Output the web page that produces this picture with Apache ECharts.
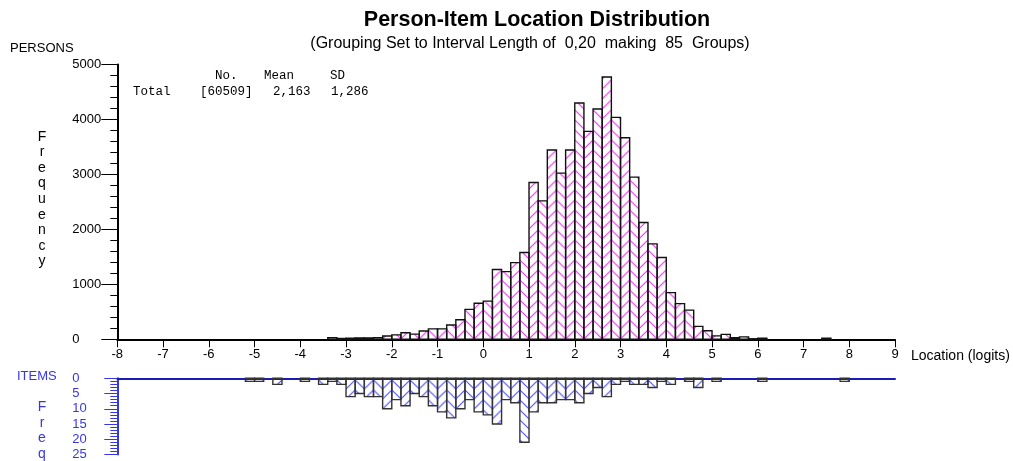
<!DOCTYPE html>
<html><head><meta charset="utf-8">
<script src="https://cdn.jsdelivr.net/npm/echarts@6/dist/echarts.min.js"></script>
<style>html,body{margin:0;padding:0;background:#fff}#c{width:1013px;height:461px}</style>
</head><body><div id="c"></div>
<script>
// ---- data ----
const binStart = -8;
const binWidth = 0.2;
const xTickValues = [-8,-7,-6,-5,-4,-3,-2,-1,0,1,2,3,4,5,6,7,8,9];
const personTicks = [0,1000,2000,3000,4000,5000];
const itemTicks = [0,5,10,15,20,25];
// persons per 0.2-logit bin, bins from -8 to 9 (85 groups)
const personCounts = [
  0,0,0,0,0,0,0,0,0,0, 0,0,0,0,0,0,0,0,0,0, 0,0,0,
  30,15,20,25,25,30,60,80,120,95,150,190,190,260,355,545,655,695,
  1269,1232,1396,1578,2854,2519,3443,3024,3443,4299,3783,4189,4772,4038,3667,2951,
  2125,1736,1488,850,650,530,235,155,63,90,28,45,10,20,
  0,0,0,0,0,0,20,0,0,0,0,0,0,0
];
// items per 0.2-logit bin
const itemCounts = [
  0,0,0,0,0,0,0,0,0,0, 0,0,0,0,1,1,0,2,0,0, 1,0,2,1,2,
  6,5,6,6,10,7,9,5,6,9,11,13,10,7,11,12,15,7,8,21,11,8,8,7,7,8,5,3,6,
  2,1,2,2,3,1,2,0,1,3,0,1,0,0,0,0,1,0,0,0,0,0,0,0,0,1,0,0,0,0,0
];

const BLUE = '#3636e6';
const GRID_LEFT = 117.3, GRID_W = 777.7;
const binPx = GRID_W / personCounts.length;

function makeChevron(color, lw) {
  const w = 18, h = 10;
  const c = document.createElement('canvas');
  c.width = w; c.height = h;
  const g = c.getContext('2d');
  g.strokeStyle = color; g.lineWidth = lw;
  for (let o = -h; o <= h; o += h) {
    g.beginPath();
    g.moveTo(0, o); g.lineTo(9, o + 9); g.lineTo(18, o);
    g.stroke();
  }
  return c;
}
function pattern(color, lw) {
  return {image: makeChevron(color, lw), repeat: 'repeat', x: GRID_LEFT, y: 0, scaleX: (2 * binPx) / 18, scaleY: 1};
}
const personPattern = pattern('rgba(240,40,240,0.9)', 1.2);
const itemPattern = pattern('rgba(60,60,255,0.85)', 1.2);

function toData(arr) {
  return arr.map((v, k) => [binStart + k * binWidth, binStart + (k + 1) * binWidth, v]);
}

function binRenderer(fill, stroke) {
  return function (params, api) {
    const v = api.value(2);
    if (!v) return null;
    const a = api.coord([api.value(0), v]);
    const b = api.coord([api.value(1), 0]);
    return {
      type: 'rect',
      shape: {x: a[0], y: Math.min(a[1], b[1]), width: b[0] - a[0], height: Math.abs(b[1] - a[1])},
      style: {fill: fill, stroke: stroke, lineWidth: 1.4}
    };
  };
}

const chart = echarts.init(document.getElementById('c'), null, {renderer: 'canvas'});
const txt = (x, y, text, opt) => ({type: 'text', x: x, y: y, style: Object.assign({text: text, fill: '#000', font: '13px "Liberation Sans", Arial, sans-serif', textVerticalAlign: 'middle'}, opt || {})});
const mono = '12.5px "Liberation Mono", "Courier New", monospace';

chart.setOption({
  animation: false,
  backgroundColor: '#fff',
  grid: [
    {left: GRID_LEFT, width: GRID_W, top: 64.5, height: 274.8},
    {left: GRID_LEFT, width: GRID_W, top: 378.3, height: 78.5}
  ],
  xAxis: [
    {gridIndex: 0, type: 'value', min: -8, max: 9, interval: 1,
     axisLine: {onZero: false, lineStyle: {color: '#000', width: 2}},
     axisTick: {length: 8, lineStyle: {color: '#000', width: 1}},
     axisLabel: {color: '#000', fontSize: 13, margin: 9, fontFamily: 'Liberation Sans',
       formatter: v => xTickValues.includes(v) ? String(v) : ''},
     splitLine: {show: false}},
    {gridIndex: 1, type: 'value', min: -8, max: 9, interval: 1, position: 'top',
     axisLine: {onZero: false, lineStyle: {color: '#1c1cb4', width: 2}},
     axisTick: {show: false}, axisLabel: {show: false}, splitLine: {show: false}}
  ],
  yAxis: [
    {gridIndex: 0, type: 'value', min: 0, max: 5000, interval: 1000,
     axisLine: {show: true, onZero: false, lineStyle: {color: '#000', width: 2}},
     axisTick: {show: true, length: 16, lineStyle: {color: '#000', width: 1}},
     minorTick: {show: true, splitNumber: 5, length: 7, lineStyle: {color: '#000', width: 1}},
     axisLabel: {color: '#000', fontSize: 13, align: 'left', margin: 45, fontFamily: 'Liberation Sans',
       formatter: v => personTicks.includes(v) ? String(v) : ''},
     splitLine: {show: false}},
    {gridIndex: 1, type: 'value', min: 0, max: 25, interval: 5, inverse: true,
     axisLine: {show: true, onZero: false, lineStyle: {color: BLUE, width: 2}},
     axisTick: {show: true, length: 13, lineStyle: {color: BLUE, width: 1}},
     minorTick: {show: true, splitNumber: 5, length: 7, lineStyle: {color: BLUE, width: 1}},
     axisLabel: {color: BLUE, fontSize: 13, align: 'left', margin: 45, fontFamily: 'Liberation Sans',
       formatter: v => itemTicks.includes(v) ? String(v) : ''},
     splitLine: {show: false}}
  ],
  series: [
    {type: 'custom', xAxisIndex: 0, yAxisIndex: 0, data: toData(personCounts),
     encode: {x: [0, 1], y: 2}, renderItem: binRenderer(personPattern, '#111'), silent: true},
    {type: 'custom', xAxisIndex: 1, yAxisIndex: 1, data: toData(itemCounts),
     encode: {x: [0, 1], y: 2}, renderItem: binRenderer(itemPattern, '#333'), silent: true}
  ],
  graphic: [
    txt(537, 20, 'Person-Item Location Distribution', {textAlign: 'center', font: 'bold 21.5px "Liberation Sans", Arial, sans-serif'}),
    txt(530, 44, '(Grouping Set to Interval Length of  0,20  making  85  Groups)', {textAlign: 'center', font: '16px "Liberation Sans", Arial, sans-serif'}),
    txt(10, 48, 'PERSONS', {font: '13px "Liberation Sans", Arial, sans-serif'}),
    txt(42, 129, 'F\nr\ne\nq\nu\ne\nn\nc\ny', {textAlign: 'center', textVerticalAlign: 'top', lineHeight: 15.6, font: '14px "Liberation Sans", Arial, sans-serif'}),
    txt(215, 76, 'No.', {font: mono}),
    txt(264, 76, 'Mean', {font: mono}),
    txt(330, 76, 'SD', {font: mono}),
    txt(133, 92, 'Total', {font: mono}),
    txt(200, 92, '[60509]', {font: mono}),
    txt(273, 92, '2,163', {font: mono}),
    txt(331, 92, '1,286', {font: mono}),
    txt(911, 356, 'Location (logits)', {font: '14px "Liberation Sans", Arial, sans-serif'}),
    txt(17, 376, 'ITEMS', {fill: BLUE}),
    txt(42, 399, 'F\nr\ne\nq', {fill: BLUE, textAlign: 'center', textVerticalAlign: 'top', lineHeight: 15.8, font: '14px "Liberation Sans", Arial, sans-serif'})
  ]
});
</script></body></html>
